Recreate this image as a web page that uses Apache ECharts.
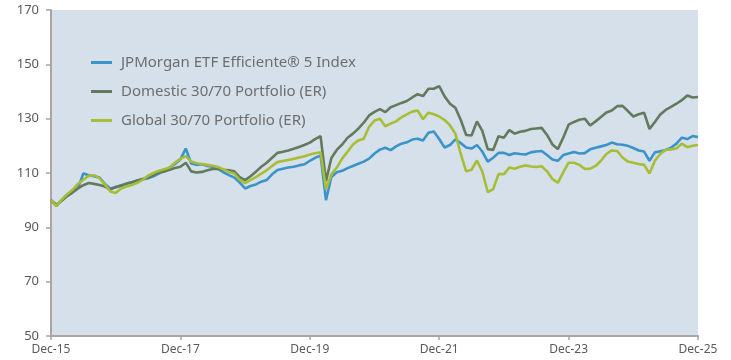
<!DOCTYPE html>
<html>
<head>
<meta charset="utf-8">
<script src="https://cdn.jsdelivr.net/npm/echarts@6/dist/echarts.min.js"></script>
<style>
html,body{margin:0;padding:0;background:#fff;}
#chart{width:731px;height:360px;}
</style>
</head>
<body>
<div id="chart"></div>
<script>
// Monthly index levels, Dec-2015 = 100 (month 0) through Dec-2025 (month 120)
const seriesNames = ['JPMorgan ETF Efficiente\u00ae 5 Index', 'Domestic 30/70 Portfolio (ER)', 'Global 30/70 Portfolio (ER)'];
const startYear = 15;
const yTicks = [50, 70, 90, 110, 130, 150, 170];

const efficiente = [
  100, 97.8, 100, 102, 103.2, 104.5, 109.8, 109.2, 108.8, 108.3, 106, 104.3,
  104.8, 105.5, 106, 106.6, 107.2, 107.6, 108.1, 108.8, 109.8, 111, 112, 113.3,
  115, 119, 113.5, 113, 113.2, 112.6, 112.3, 111.5, 110.2, 109.2, 108.3, 106.5,
  104.3, 105.2, 105.8, 106.8, 107.4, 109.5, 111.1, 111.6, 112, 112.3, 112.8, 113.2,
  114.5, 115.6, 116.4, 100, 108.5, 110.3, 110.8, 111.8, 112.6, 113.4, 114.2, 115.3,
  117.2, 118.6, 119.3, 118.4, 119.8, 120.8, 121.3, 122.3, 122.6, 122, 124.8, 125.3,
  122.5, 119.4, 120.3, 122.4, 121, 119.4, 119, 120.3, 117.9, 114.2, 115.6, 117.4,
  117.4, 116.6, 117.3, 117, 116.8, 117.6, 117.9, 118.1, 116.6, 115, 114.5, 116.6,
  117.2, 117.7, 117.2, 117.3, 118.7, 119.3, 119.8, 120.3, 121.2, 120.6, 120.4, 120,
  119.2, 118.3, 117.9, 114.5, 117.6, 118, 118.5, 119.3, 120.8, 123, 122.5, 123.6,
  123.2
];

const domestic = [
  100, 98.3, 99.8, 101.5, 102.8, 104.3, 105.5, 106.3, 106, 105.6, 105, 103.9,
  104.8, 105.3, 106.1, 106.6, 107.2, 107.8, 108.4, 109.2, 110.2, 110.5, 111.2, 111.8,
  112.3, 113.8, 110.6, 110.2, 110.4, 111, 111.5, 111.6, 111.2, 111, 110.6, 108.5,
  107.4, 108.8, 110.5, 112.3, 113.8, 115.6, 117.4, 117.8, 118.3, 118.9, 119.6, 120.3,
  121.2, 122.5, 123.6, 107, 115.5, 118.5, 120.5, 123, 124.5, 126.3, 128.5, 131.2,
  132.5, 133.5, 132.4, 134.2, 135, 135.8, 136.5, 137.8, 139, 138.3, 141, 141,
  142, 138.2, 135.5, 134, 129.5, 124, 123.8, 129, 125.5, 118.8, 118.5, 123.5,
  123, 125.8, 124.5, 125.2, 125.5, 126.2, 126.4, 126.6, 124, 120.5, 118.8, 123,
  127.8, 128.8, 129.6, 130, 127.5, 129, 130.6, 132.3, 133, 134.6, 134.7, 132.8,
  130.8, 131.6, 132.2, 126.2, 128.8, 131.5, 133.2, 134.3, 135.5, 136.8, 138.5, 137.8,
  138
];

const globalPortfolio = [
  100, 97.8, 100.2, 102.2, 103.8, 106, 107.5, 109, 109.2, 108, 105.8, 103.2,
  102.6, 104.3, 105, 105.6, 106.4, 107.5, 109, 110, 110.8, 111.4, 112, 113.8,
  115.2, 116.2, 114.2, 113.6, 113.3, 113, 112.7, 112.2, 111.3, 110.4, 109.8, 107.5,
  106.3, 107.4, 108.5, 109.8, 111, 112.6, 114, 114.4, 114.8, 115.2, 115.7, 116.2,
  116.8, 117.3, 117.6, 104, 109.5, 112, 115.3, 117.8, 120.5, 122, 122.6, 127,
  129.3, 130, 127.2, 128.2, 129, 130.5, 131.6, 132.6, 133, 129.8, 132.2, 131.6,
  130.8, 129.5, 127.5, 124.5, 117, 110.6, 111.2, 114.6, 110.5, 103, 104, 109.6,
  109.6, 112, 111.6, 112.3, 112.8, 112.4, 112.2, 112.5, 110.6, 107.8, 106.4, 110.2,
  113.8, 113.8, 113, 111.5, 111.6, 112.6, 114.5, 117, 118.3, 118.1, 115.7, 114.2,
  113.8, 113.3, 113, 109.8, 114.5, 117, 118.5, 118.7, 119, 120.8, 119.5, 120,
  120.3
];

const colors = ['#3b94c9', '#637a5c', '#a8bd36'];

function toPairs(values) {
  return values.map((v, i) => [i, v]);
}

const chart = echarts.init(document.getElementById('chart'), null, { renderer: 'canvas' });

const axisColor = '#aaa5a0';
const labelColor = '#5a5a5a';
const fontFamily = '"Noto Sans", "Open Sans", sans-serif';

chart.setOption({
  animation: false,
  textStyle: { fontFamily: fontFamily },
  grid: {
    left: 51, right: 33, top: 10, bottom: 24,
    show: true, backgroundColor: '#d6e0eb', borderWidth: 0
  },
  legend: {
    orient: 'vertical',
    left: 86, top: 50,
    itemWidth: 21, itemHeight: 3, itemGap: 14,
    icon: 'rect',
    textStyle: { color: '#6e6e6e', fontSize: 15, fontFamily: fontFamily, padding: [0, 0, 0, 4] },
    data: seriesNames
  },
  xAxis: {
    type: 'value',
    min: 0, max: 120, interval: 24,
    axisLine: { lineStyle: { color: axisColor, width: 2 } },
    axisTick: { show: true, length: 4, lineStyle: { color: axisColor, width: 1.5 } },
    splitLine: { show: false },
    axisLabel: {
      color: labelColor, fontSize: 12, margin: 8,
      formatter: v => 'Dec-' + (startYear + v / 12)
    }
  },
  yAxis: {
    type: 'value',
    min: yTicks[0], max: yTicks[yTicks.length - 1], interval: 20,
    axisLine: { show: true, lineStyle: { color: axisColor, width: 2 } },
    axisTick: { show: true, length: 5, lineStyle: { color: axisColor, width: 1.5 } },
    splitLine: { show: false },
    axisLabel: { color: labelColor, fontSize: 13, margin: 12 }
  },
  series: [
    { name: seriesNames[0], data: toPairs(efficiente), color: colors[0] },
    { name: seriesNames[1], data: toPairs(domestic), color: colors[1] },
    { name: seriesNames[2], data: toPairs(globalPortfolio), color: colors[2] }
  ].map(s => Object.assign({
    type: 'line', showSymbol: false, symbol: 'none',
    lineStyle: { width: 2.6 }
  }, s))
});
</script>
</body>
</html>
